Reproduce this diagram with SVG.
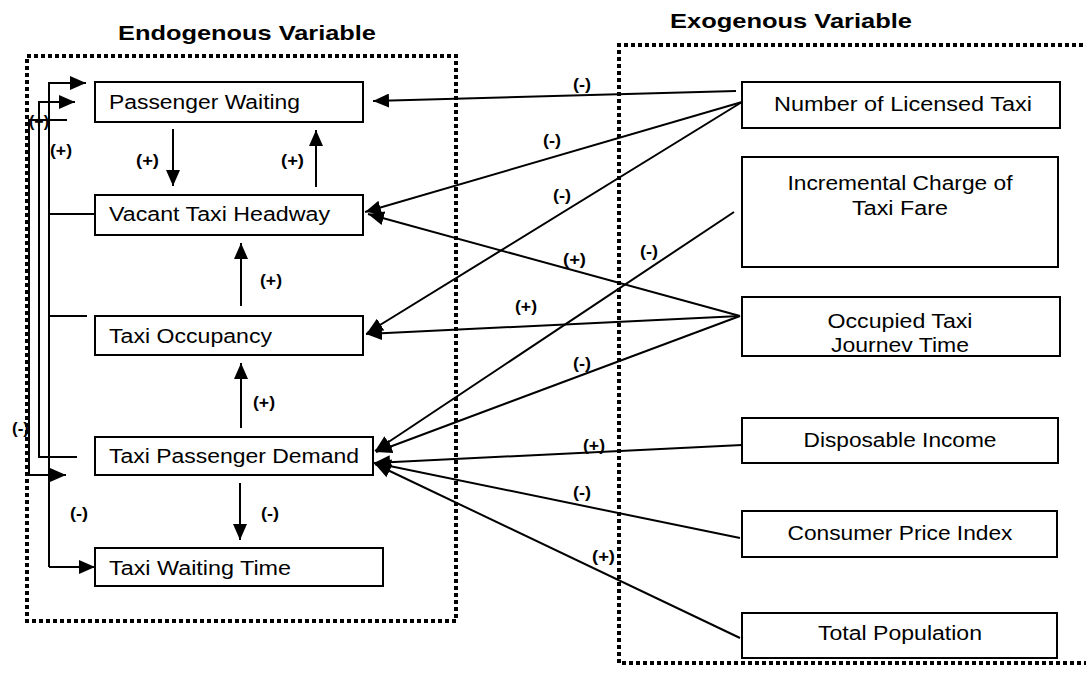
<svg xmlns="http://www.w3.org/2000/svg" width="1086" height="676" viewBox="0 0 1086 676">
<style>
.bg{fill:#fff}
.dot{fill:none;stroke:#000;stroke-width:4;stroke-dasharray:4 3}
.box{fill:#fff;stroke:#000;stroke-width:2}
.t{font-family:"Liberation Sans",Arial,sans-serif;font-size:20px;fill:#000}
.c{text-anchor:middle}
.title{font-family:"Liberation Sans",Arial,sans-serif;font-size:21px;font-weight:bold;fill:#000}
.lbl{font-family:"Liberation Sans",Arial,sans-serif;font-size:16px;font-weight:bold;fill:#000}
.ln{fill:none;stroke:#000;stroke-width:2}
.ar{fill:none;stroke:#000;stroke-width:2;marker-end:url(#ah)}
</style>
<defs>
<marker id="ah" markerUnits="userSpaceOnUse" markerWidth="16" markerHeight="14" refX="16" refY="7" orient="auto"><path d="M0,0 L16,7 L0,14 z" fill="#000"/></marker>
</defs>
<rect class="bg" x="0" y="0" width="1086" height="676"/>

<g id="frames">
<rect class="dot" x="27" y="56" width="429" height="565"/>
<path class="dot" d="M1090,45 L619,45 L619,663 L1090,663"/>
<text class="title" x="118" y="40" textLength="258" lengthAdjust="spacingAndGlyphs">Endogenous Variable</text>
<text class="title" x="670" y="28" textLength="242" lengthAdjust="spacingAndGlyphs">Exogenous Variable</text>
</g>

<g id="connectors">
<!-- left feedback lines -->
<path class="ln" d="M67,120 L29,120 L29,475"/>
<path class="ar" d="M29,475 L66,475"/>
<path class="ar" d="M77,457 L39,457 L39,102 L75,102"/>
<path class="ar" d="M49,567 L49,83 L86,83"/>
<path class="ar" d="M49,567 L95,567"/>
<path class="ln" d="M49,214 L95,214"/>
<path class="ln" d="M49,316 L87,316"/>
<!-- internal -->
<path class="ar" d="M173,129 L173,186"/>
<path class="ar" d="M316,187 L316,130"/>
<path class="ar" d="M241,306 L241,243"/>
<path class="ar" d="M241,428 L241,363"/>
<path class="ar" d="M240,483 L240,540"/>
<!-- exogenous -->
<path class="ar" d="M736,91 L373,101"/>
<path class="ar" d="M742,102 L365,212"/>
<path class="ar" d="M742,102 L367,333"/>
<path class="ar" d="M734,212 L375,451"/>
<path class="ar" d="M740,316 L368,214"/>
<path class="ar" d="M740,316 L366,334"/>
<path class="ar" d="M740,316 L376,452"/>
<path class="ar" d="M742,445 L374,463"/>
<path class="ar" d="M740,538 L375,463"/>
<path class="ar" d="M740,638 L375,464"/>
</g>

<g id="labels">
<text class="lbl" x="29" y="127" textLength="20" lengthAdjust="spacingAndGlyphs">(+)</text>
<text class="lbl" x="50" y="156" textLength="22" lengthAdjust="spacingAndGlyphs">(+)</text>
<text class="lbl" x="12" y="434" textLength="17" lengthAdjust="spacingAndGlyphs">(-)</text>
<text class="lbl" x="70" y="519" textLength="18" lengthAdjust="spacingAndGlyphs">(-)</text>
<text class="lbl" x="136" y="166" textLength="23" lengthAdjust="spacingAndGlyphs">(+)</text>
<text class="lbl" x="281" y="166" textLength="23" lengthAdjust="spacingAndGlyphs">(+)</text>
<text class="lbl" x="260" y="286" textLength="22" lengthAdjust="spacingAndGlyphs">(+)</text>
<text class="lbl" x="253" y="408" textLength="22" lengthAdjust="spacingAndGlyphs">(+)</text>
<text class="lbl" x="261" y="519" textLength="18" lengthAdjust="spacingAndGlyphs">(-)</text>
<text class="lbl" x="573" y="90" textLength="18" lengthAdjust="spacingAndGlyphs">(-)</text>
<text class="lbl" x="543" y="146" textLength="18" lengthAdjust="spacingAndGlyphs">(-)</text>
<text class="lbl" x="553" y="201" textLength="18" lengthAdjust="spacingAndGlyphs">(-)</text>
<text class="lbl" x="640" y="257" textLength="18" lengthAdjust="spacingAndGlyphs">(-)</text>
<text class="lbl" x="563" y="265" textLength="23" lengthAdjust="spacingAndGlyphs">(+)</text>
<text class="lbl" x="515" y="312" textLength="22" lengthAdjust="spacingAndGlyphs">(+)</text>
<text class="lbl" x="573" y="369" textLength="18" lengthAdjust="spacingAndGlyphs">(-)</text>
<text class="lbl" x="583" y="451" textLength="22" lengthAdjust="spacingAndGlyphs">(+)</text>
<text class="lbl" x="573" y="498" textLength="18" lengthAdjust="spacingAndGlyphs">(-)</text>
<text class="lbl" x="592" y="562" textLength="23" lengthAdjust="spacingAndGlyphs">(+)</text>
</g>

<g id="passenger-waiting"><rect class="box" x="95" y="82" width="268" height="40"/><text class="t" x="109" y="109" textLength="191" lengthAdjust="spacingAndGlyphs">Passenger Waiting</text></g>
<g id="vacant-taxi-headway"><rect class="box" x="95" y="195" width="268" height="40"/><text class="t" x="109" y="221" textLength="221" lengthAdjust="spacingAndGlyphs">Vacant Taxi Headway</text></g>
<g id="taxi-occupancy"><rect class="box" x="95" y="316" width="268" height="39"/><text class="t" x="109" y="343" textLength="163" lengthAdjust="spacingAndGlyphs">Taxi Occupancy</text></g>
<g id="taxi-passenger-demand"><rect class="box" x="95" y="437" width="278" height="38"/><text class="t" x="109" y="463" textLength="250" lengthAdjust="spacingAndGlyphs">Taxi Passenger Demand</text></g>
<g id="taxi-waiting-time"><rect class="box" x="95" y="548" width="288" height="38"/><text class="t" x="109" y="575" textLength="182" lengthAdjust="spacingAndGlyphs">Taxi Waiting Time</text></g>

<g id="number-of-licensed-taxi"><rect class="box" x="742" y="82" width="318" height="46"/><text class="t c" x="903" y="111" textLength="258" lengthAdjust="spacingAndGlyphs">Number of Licensed Taxi</text></g>
<g id="incremental-charge"><rect class="box" x="742" y="157" width="316" height="110"/><text class="t c" x="900" y="190" textLength="225" lengthAdjust="spacingAndGlyphs">Incremental Charge of</text><text class="t c" x="900" y="215" textLength="96" lengthAdjust="spacingAndGlyphs">Taxi Fare</text></g>
<g id="occupied-taxi-journey-time"><rect class="box" x="742" y="297" width="318" height="59"/><text class="t c" x="900" y="328" textLength="145" lengthAdjust="spacingAndGlyphs">Occupied Taxi</text><text class="t c" x="900" y="352" textLength="138" lengthAdjust="spacingAndGlyphs">Journev Time</text></g>
<g id="disposable-income"><rect class="box" x="742" y="418" width="316" height="45"/><text class="t c" x="900" y="447" textLength="193" lengthAdjust="spacingAndGlyphs">Disposable Income</text></g>
<g id="consumer-price-index"><rect class="box" x="742" y="511" width="315" height="46"/><text class="t c" x="900" y="540" textLength="225" lengthAdjust="spacingAndGlyphs">Consumer Price Index</text></g>
<g id="total-population"><rect class="box" x="742" y="613" width="315" height="45"/><text class="t c" x="900" y="640" textLength="164" lengthAdjust="spacingAndGlyphs">Total Population</text></g>
</svg>
